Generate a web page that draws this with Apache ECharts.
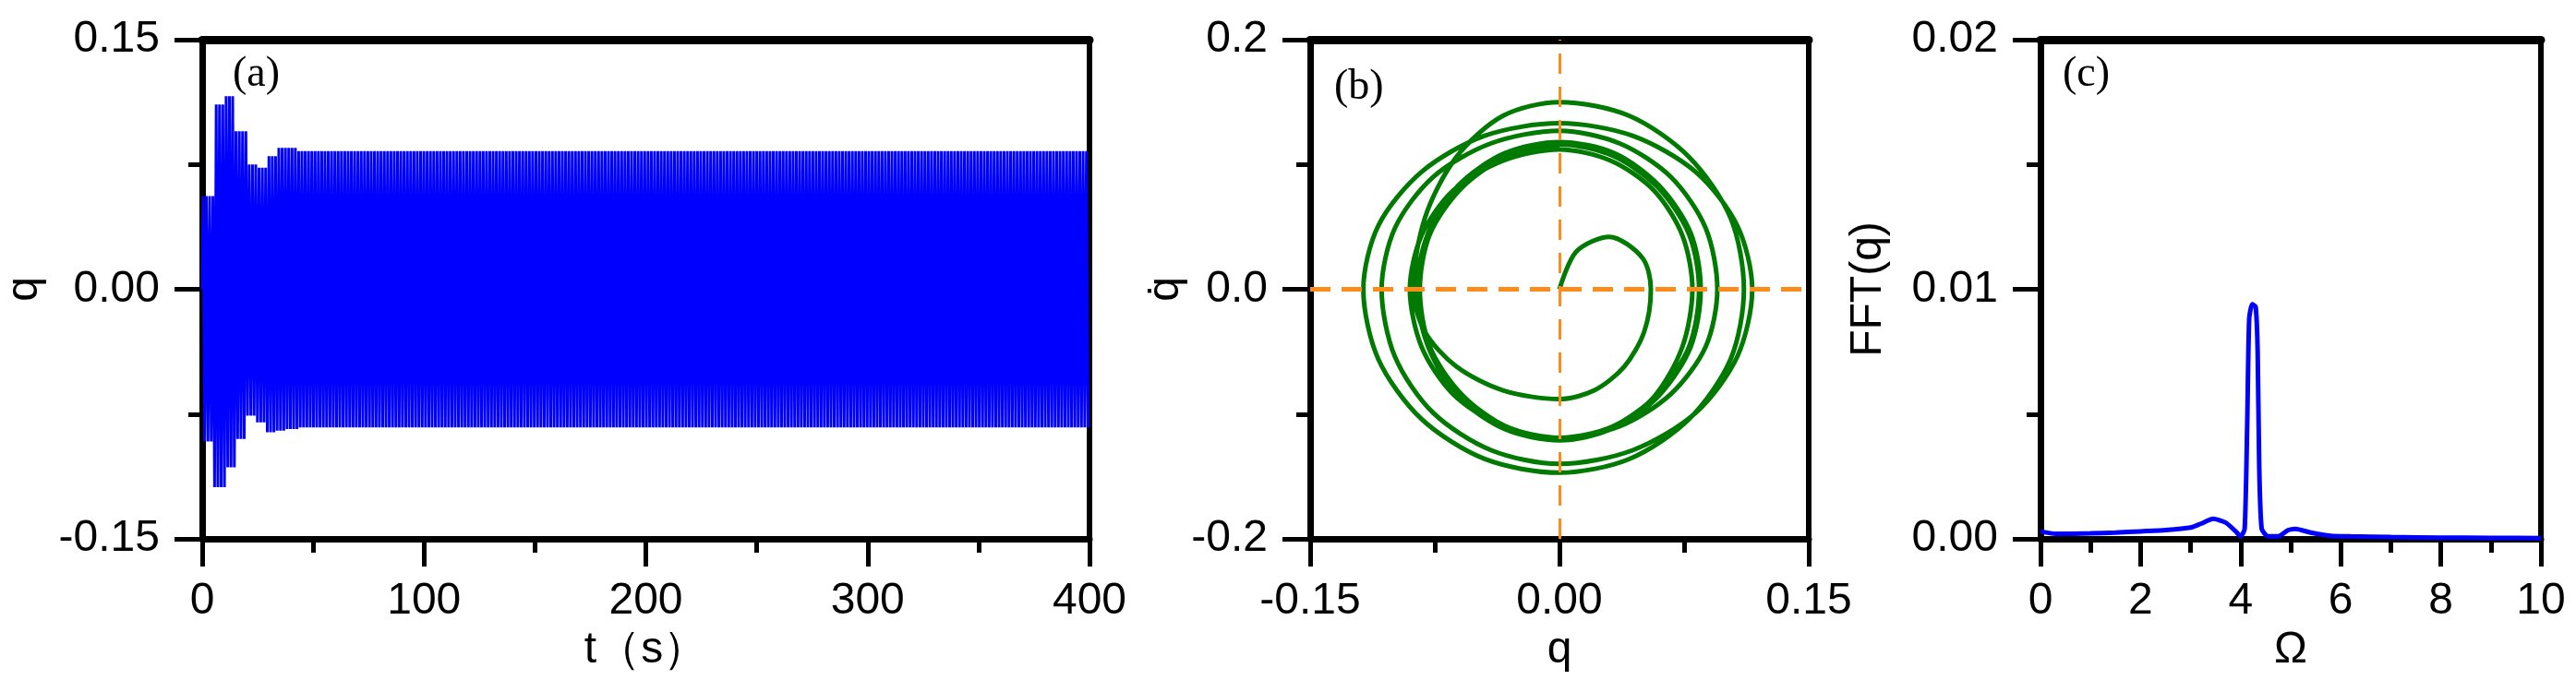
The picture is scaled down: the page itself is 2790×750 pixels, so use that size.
<!DOCTYPE html>
<html>
<head>
<meta charset="utf-8">
<script src="https://cdn.jsdelivr.net/npm/echarts@6/dist/echarts.min.js"></script>
<style>
  html, body { margin: 0; padding: 0; background: #fff; }
  #chart { width: 2790px; height: 750px; }
</style>
</head>
<body>
<div id="chart"></div>
<script>
// (a) time series: envelope of the extremes
const envTimes = [2.5, 7.6, 12.6, 17.6, 21.9, 26.8, 31.2, 35.9, 40.6, 45.3, 50];
const peakEnv = [0.056, 0.111, 0.116, 0.095, 0.075, 0.073, 0.080, 0.085, 0.085, 0.083, 0.083];
const troughEnv = [-0.0915, -0.119, -0.107, -0.090, -0.076, -0.080, -0.086, -0.085, -0.084, -0.083, -0.083];
const steadyPeak = 0.083;
const steadyTrough = -0.083;
const halfPeriod = 0.743; // s  (Ω ≈ 4.23 rad/s)
const tEnd = 400;

// (b) phase portrait points [q, qdot]
const phasePoints = [
  [0, 0], [0.01, 0.03], [0.03, 0.042], [0.05, 0.025], [0.055, 0],
  [0.051, -0.034], [0.039, -0.062], [0.021, -0.081], [0, -0.088],
  [-0.034, -0.081], [-0.062, -0.062], [-0.081, -0.034], [-0.088, 0],
  [-0.081, 0.057], [-0.062, 0.106], [-0.034, 0.139], [0, 0.150],
  [0.042, 0.139], [0.078, 0.106], [0.103, 0.057], [0.111, 0],
  [0.103, -0.056], [0.078, -0.104], [0.042, -0.136], [0, -0.147],
  [-0.045, -0.136], [-0.083, -0.104], [-0.109, -0.056], [-0.118, 0],
  [-0.109, 0.051], [-0.083, 0.094], [-0.045, 0.123], [0, 0.133],
  [0.044, 0.123], [0.082, 0.094], [0.107, 0.051], [0.116, 0],
  [0.107, -0.054], [0.082, -0.099], [0.044, -0.129], [0, -0.140],
  [-0.041, -0.129], [-0.076, -0.099], [-0.099, -0.054], [-0.107, 0],
  [-0.099, 0.049], [-0.076, 0.090], [-0.041, 0.117], [0, 0.127],
  [0.036, 0.117], [0.067, 0.090], [0.088, 0.049], [0.095, 0],
  [0.088, -0.046], [0.067, -0.084], [0.036, -0.110], [0, -0.119],
  [-0.034, -0.110], [-0.064, -0.084], [-0.083, -0.046], [-0.090, 0],
  [-0.083, 0.043], [-0.064, 0.079], [-0.034, 0.103], [0, 0.112],
  [0.031, 0.103], [0.057, 0.079], [0.074, 0.043], [0.080, 0],
  [0.074, -0.046], [0.057, -0.086], [0.031, -0.112], [0, -0.121],
  [-0.033, -0.112], [-0.061, -0.086], [-0.079, -0.046], [-0.086, 0],
  [-0.079, 0.045], [-0.061, 0.083], [-0.033, 0.109], [0, 0.118],
  [0.033, 0.109], [0.060, 0.083], [0.079, 0.045], [0.085, 0],
  [0.079, -0.046], [0.060, -0.085], [0.033, -0.111], [0, -0.120],
  [-0.033, -0.111], [-0.060, -0.085], [-0.079, -0.046], [-0.085, 0],
  [-0.079, 0.044], [-0.060, 0.082], [-0.033, 0.107], [0, 0.116],
  [0.032, 0.107], [0.059, 0.082], [0.078, 0.044], [0.084, 0],
  [0.078, -0.046], [0.059, -0.084], [0.032, -0.110], [0, -0.119],
  [-0.032, -0.110], [-0.059, -0.084], [-0.078, -0.046], [-0.084, 0],
  [-0.078, 0.044], [-0.059, 0.081], [-0.032, 0.106], [0, 0.115]
];

// (c) spectrum [Omega, FFT(q)]
const fftPoints = [
  [0, 0.0003], [0.3, 0.0002], [1, 0.00022], [1.5, 0.00025], [2, 0.0003], [2.5, 0.00035],
  [3, 0.00045], [3.2, 0.0006], [3.45, 0.0008], [3.7, 0.00065], [3.9, 0.0003], [4.0, 0.0001],
  [4.08, 0.0004], [4.13, 0.0045], [4.17, 0.0088], [4.23, 0.0094], [4.3, 0.0093],
  [4.34, 0.0075], [4.37, 0.003], [4.42, 0.0004], [4.55, 0.0001], [4.75, 0.0001],
  [4.95, 0.00035], [5.1, 0.0004], [5.4, 0.00025], [5.8, 0.00012], [6.2, 0.0001],
  [7, 0.00007], [8, 0.00005], [9, 0.00004], [10, 0.00003]
];

const aTicks = { yMin: -0.15, yMax: 0.15, yStep: 0.15, xMin: 0, xMax: 400, xStep: 100 };
const bTicks = { xMin: -0.15, xMax: 0.15, xStep: 0.15, yMin: -0.2, yMax: 0.2, yStep: 0.2 };
const cTicks = { xMin: 0, xMax: 10, xStep: 2, yMin: 0, yMax: 0.02, yStep: 0.01 };

function envAt(t, env, steady) {
  if (t > envTimes[envTimes.length - 1] + 2) return steady;
  let best = 0;
  for (let i = 1; i < envTimes.length; i++) {
    if (Math.abs(envTimes[i] - t) < Math.abs(envTimes[best] - t)) best = i;
  }
  return env[best];
}

function buildSeriesA() {
  const pts = [[0, 0]];
  let t = halfPeriod / 2, k = 0;
  while (t <= tEnd) {
    const v = k % 2 === 0 ? envAt(t, peakEnv, steadyPeak) : envAt(t, troughEnv, steadyTrough);
    pts.push([t, v]);
    t += halfPeriod;
    k++;
  }
  return pts;
}

const FONT = 'Liberation Sans';
const black = '#000';

function axisPair(gridIndex, r, fmtX, fmtY, names) {
  const common = {
    gridIndex: gridIndex,
    splitLine: { show: false },
    axisLine: { onZero: false, lineStyle: { color: black, width: 7 } },
    axisTick: { length: 30, lineStyle: { color: black, width: 5 } },
    minorTick: { show: true, splitNumber: 2, length: 15, lineStyle: { color: black, width: 5 } },
    nameTextStyle: { fontFamily: FONT, fontSize: 48, color: black },
    nameLocation: 'middle'
  };
  const x = Object.assign({}, common, {
    type: 'value', min: r.xMin, max: r.xMax, interval: r.xStep,
    name: names[0], nameGap: names[2],
    axisLabel: { fontFamily: FONT, fontSize: 48, color: black, margin: 44, formatter: fmtX }
  });
  const y = Object.assign({}, common, {
    type: 'value', min: r.yMin, max: r.yMax, interval: r.yStep,
    name: names[1], nameGap: names[3],
    axisLabel: { fontFamily: FONT, fontSize: 48, color: black, margin: 46, formatter: fmtY }
  });
  const frame = (pos) => ({
    type: 'value', gridIndex: gridIndex, position: pos,
    min: pos === 'top' ? r.xMin : r.yMin, max: pos === 'top' ? r.xMax : r.yMax,
    axisLine: { show: true, onZero: false, lineStyle: { color: black, width: pos === 'top' ? 9 : 6 } },
    axisTick: { show: false }, axisLabel: { show: false }, splitLine: { show: false }
  });
  return { x: [x, frame('top')], y: [y, frame('right')] };
}

const fx2 = v => v.toFixed(2);
const fx1 = v => v.toFixed(1);
const fx0 = v => String(v);

const A = axisPair(0, aTicks, fx0, fx2, ['t（s）', 'q', 92, 168]);
const B = axisPair(1, bTicks, fx2, fx1, ['q', 'q\u0307', 92, 130]);
const C = axisPair(2, cTicks, fx0, fx2, ['Ω', 'FFT(q)', 92, 162]);

const chart = echarts.init(document.getElementById('chart'));
chart.setOption({
  backgroundColor: '#fff',
  animation: false,
  grid: [
    { left: 219, top: 43, width: 961, height: 541 },
    { left: 1419, top: 43, width: 540, height: 541 },
    { left: 2210, top: 43, width: 542, height: 541 }
  ],
  xAxis: [].concat(A.x, B.x, C.x),
  yAxis: [].concat(A.y, B.y, C.y),
  graphic: [
    { type: 'text', left: 252, top: 58, style: { text: '(a)', font: '46px "Liberation Serif"', fill: black } },
    { type: 'text', left: 1445, top: 72, style: { text: '(b)', font: '46px "Liberation Serif"', fill: black } },
    { type: 'text', left: 2234, top: 58, style: { text: '(c)', font: '46px "Liberation Serif"', fill: black } }
  ],
  series: [
    {
      type: 'line', xAxisIndex: 0, yAxisIndex: 0, data: buildSeriesA(),
      showSymbol: false, lineStyle: { color: '#0000ff', width: 3 }, z: 1
    },
    {
      type: 'line', xAxisIndex: 2, yAxisIndex: 2, data: phasePoints,
      showSymbol: false, smooth: 0.3, lineStyle: { color: '#007a00', width: 5 },
      markLine: {
        silent: true, symbol: 'none', label: { show: false }, z: 5,
        data: [
          { xAxis: 0, lineStyle: { color: '#ff8c1a', width: 3, type: [22, 14] } },
          { yAxis: 0, lineStyle: { color: '#ff8c1a', width: 5, type: [22, 12] } }
        ]
      }
    },
    {
      type: 'line', xAxisIndex: 4, yAxisIndex: 4, data: fftPoints,
      showSymbol: false, smooth: 0.2, lineStyle: { color: '#0000ff', width: 5 }
    }
  ]
});
</script>
</body>
</html>
